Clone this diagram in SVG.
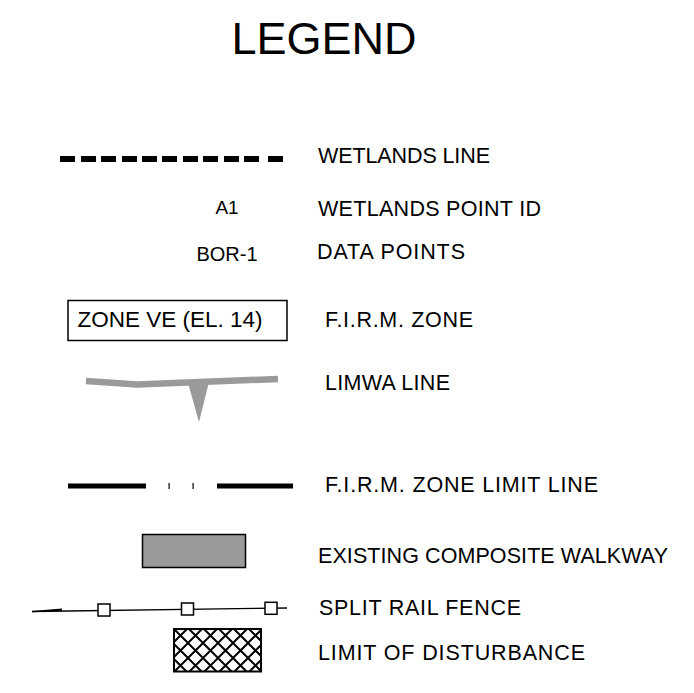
<svg xmlns="http://www.w3.org/2000/svg" width="694" height="693" viewBox="0 0 694 693">
<defs>
<style>
.lbl{font-family:"Liberation Sans",Arial,sans-serif;font-size:21.5px;fill:#000}
.sym{font-family:"Liberation Sans",Arial,sans-serif;fill:#000}
.gray{fill:#9a9a9a}
</style>
<pattern id="hatch" patternUnits="userSpaceOnUse" x="173" y="628" width="15" height="15">
<path d="M0,0 L15,15 M15,0 L0,15" stroke="#000" stroke-width="2" fill="none"/>
</pattern>
</defs>
<rect width="694" height="693" fill="#fff"/>
<text class="sym" x="324" y="54" font-size="45" text-anchor="middle">LEGEND</text>

<g id="wetlands-line">
<path fill="#000" d="M60,156h15v6h-15z M81,156h15v6h-15z M101,156h15v6h-15z M122,156h15v6h-15z M142,156h15v6h-15z M162,156h15v6h-15z M183,156h15v6h-15z M203,156h15v6h-15z M224,156h15v6h-15z M244,156h15v6h-15z M268,156h15v6h-15z"/>
<text class="lbl" x="318" y="163" textLength="172" lengthAdjust="spacing">WETLANDS LINE</text>
</g>

<g id="wetlands-point">
<text class="sym" x="227" y="214" font-size="19" text-anchor="middle">A1</text>
<text class="lbl" x="318" y="216" textLength="223" lengthAdjust="spacing">WETLANDS POINT ID</text>
</g>

<g id="data-points">
<text class="sym" x="227" y="261" font-size="20" text-anchor="middle">BOR-1</text>
<text class="lbl" x="317" y="259" textLength="148" lengthAdjust="spacing">DATA POINTS</text>
</g>

<g id="firm-zone">
<rect x="68" y="300.5" width="219" height="40" fill="none" stroke="#000" stroke-width="1.5"/>
<text class="sym" x="170" y="327" font-size="22.5" text-anchor="middle">ZONE VE (EL. 14)</text>
<text class="lbl" x="325" y="327" textLength="148" lengthAdjust="spacing">F.I.R.M. ZONE</text>
</g>

<g id="limwa-line">
<polyline points="86,381 137,384.5 278,379" fill="none" stroke="#9a9a9a" stroke-width="6.5"/>
<polygon class="gray" points="188,383 209,382 199,422"/>
<text class="lbl" x="325" y="390" textLength="125" lengthAdjust="spacing">LIMWA LINE</text>
</g>

<g id="firm-limit-line">
<rect x="68" y="483.5" width="78" height="5" fill="#000"/>
<rect x="168.5" y="483" width="1.2" height="6" fill="#000"/>
<rect x="192.5" y="483" width="1.2" height="6" fill="#000"/>
<rect x="217" y="483.5" width="76" height="5" fill="#000"/>
<text class="lbl" x="325" y="492" textLength="273" lengthAdjust="spacing">F.I.R.M. ZONE LIMIT LINE</text>
</g>

<g id="walkway">
<rect x="142.5" y="534.5" width="103" height="33" fill="#9a9a9a" stroke="#000" stroke-width="1.5"/>
<text class="lbl" x="318" y="563" textLength="350" lengthAdjust="spacing">EXISTING COMPOSITE WALKWAY</text>
</g>

<g id="split-rail-fence">
<path d="M32,611.5 L287,608" fill="none" stroke="#000" stroke-width="1.3"/>
<polygon points="32,611 62,608.5 62,610.8 32,612.2" fill="#000"/>
<rect x="98" y="604" width="12" height="12" fill="#fff" stroke="#000" stroke-width="1.5"/>
<rect x="181.5" y="603" width="12" height="12" fill="#fff" stroke="#000" stroke-width="1.5"/>
<rect x="265" y="602.3" width="12" height="12" fill="#fff" stroke="#000" stroke-width="1.5"/>
<text class="lbl" x="319" y="615" textLength="202" lengthAdjust="spacing">SPLIT RAIL FENCE</text>
</g>

<g id="limit-of-disturbance">
<rect x="174" y="629" width="87" height="42.5" fill="url(#hatch)" stroke="#000" stroke-width="2"/>
<text class="lbl" x="318" y="660" textLength="267" lengthAdjust="spacing">LIMIT OF DISTURBANCE</text>
</g>
</svg>
